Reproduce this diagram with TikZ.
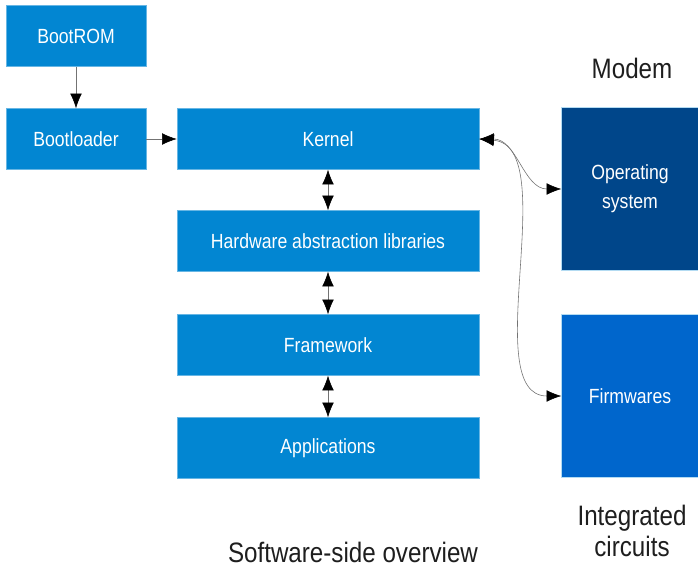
\documentclass[tikz,border=0pt]{standalone}
\usepackage{fontspec}
\setmainfont{Liberation Sans}[FakeStretch=0.86]
\usepackage{tikz}
\usetikzlibrary{arrows.meta, positioning}

\definecolor{boxblue}{RGB}{2,134,210}
\definecolor{osblue}{RGB}{0,70,138}
\definecolor{fwblue}{RGB}{0,102,204}
\definecolor{txtgray}{RGB}{30,30,30}

\tikzset{
  swbox/.style={fill=boxblue, draw=boxblue!60!white, line width=0.4pt, text=white,
    font=\fontsize{17.5}{20}\selectfont, inner sep=0pt, minimum height=1.83cm},
  modbox/.style={draw=white!70!boxblue, line width=0.4pt, text=white, align=center,
    font=\fontsize{17.5}{25}\selectfont, inner sep=0pt, minimum width=4.11cm, minimum height=4.89cm},
  link/.style={draw=black!55, line width=0.5pt, -{Latex[length=12.5pt, width=10pt, black]}},
  dlink/.style={draw=black!55, line width=0.5pt, {Latex[length=12.5pt, width=10pt, black]}-{Latex[length=12.5pt, width=10pt, black]}},
  caption/.style={text=txtgray, align=center, font=\fontsize{24}{27}\selectfont}
}

\begin{document}
\begin{tikzpicture}[x=0.03cm, y=-0.03cm]
\useasboundingbox (0,0) rectangle (698,567);

\node[swbox, minimum width=4.2cm] (bootrom) at (76,36) {BootROM};
\node[swbox, minimum width=4.2cm] (bootloader) at (76,139) {Bootloader};
\node[swbox, minimum width=9.06cm] (kernel) at (328,139) {Kernel};
\node[swbox, minimum width=9.06cm] (hal) at (328,241) {Hardware abstraction libraries};
\node[swbox, minimum width=9.06cm] (framework) at (328,345) {Framework};
\node[swbox, minimum width=9.06cm] (apps) at (328,448) {Applications};

\node[modbox, fill=osblue] (os) at (630,189) {Operating\\system};
\node[modbox, fill=fwblue] (fw) at (630,396) {Firmwares};

\node[caption] (modem) at (632,68) {Modem};
\node[caption] (ic) at (632,531) {Integrated\\circuits};
\node[caption] (overview) at (353,552) {Software-side overview};

\draw[link] (bootrom) -- (bootloader);
\draw[link] (bootloader) -- (kernel);
\draw[dlink] (kernel) -- (hal);
\draw[dlink] (hal) -- (framework);
\draw[dlink] (framework) -- (apps);
\draw[dlink] (kernel.east) to[out=0, in=180] (os.west);
\draw[dlink] (kernel.east) to[out=-5, in=180, looseness=0.8] (fw.west);
\end{tikzpicture}
\end{document}
